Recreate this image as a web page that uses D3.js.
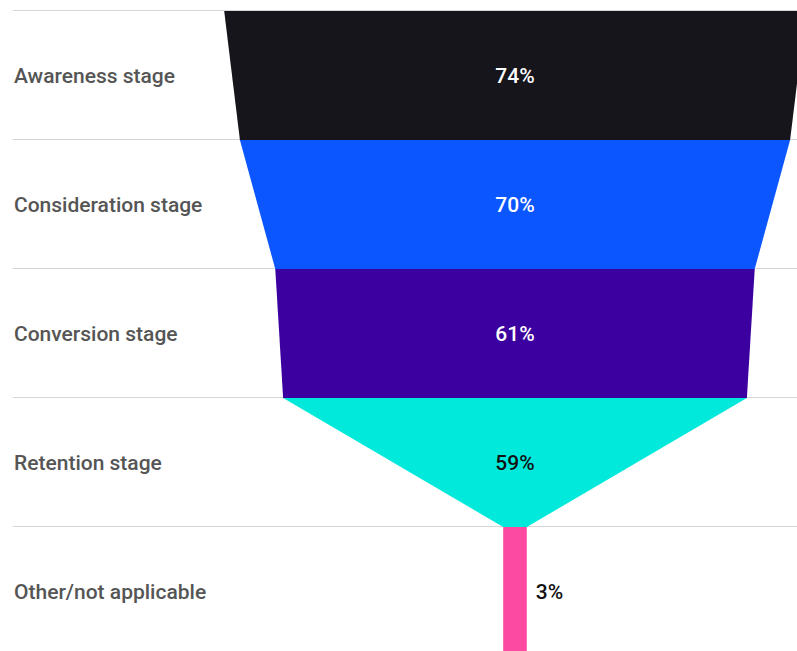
<!DOCTYPE html>
<html>
<head>
<meta charset="utf-8">
<script src="https://cdn.jsdelivr.net/npm/d3@7"></script>
<style>
  html, body { margin: 0; padding: 0; background: #fff; }
  svg { display: block; }
</style>
</head>
<body>
<svg id="chart" width="797" height="651"></svg>
<script>
// Funnel stages, top to bottom
const stages = ["Awareness stage", "Consideration stage", "Conversion stage", "Retention stage", "Other/not applicable"];
const shares = [74, 70, 61, 59, 3];
const fills = ["#15151b", "#0b56ff", "#3d00a0", "#00e9da", "#fb4aa0"];
const valueInk = ["#ffffff", "#ffffff", "#ffffff", "#111111", "#111111"];

const W = 797, H = 651;
const svg = d3.select("#chart");

const rowTop = 10.5, rowH = 129;
const y = d3.scaleBand().domain(stages).range([rowTop, rowTop + rowH * stages.length]).paddingInner(0).paddingOuter(0);
// width of a funnel slice as a function of its share
const w = d3.scaleLinear().domain([0, 100]).range([0, 786]);
const cx = 515;

// row separators
svg.append("g").selectAll("line").data(stages).join("line")
  .attr("x1", 13).attr("x2", W)
  .attr("y1", d => y(d)).attr("y2", d => y(d))
  .attr("stroke", "#d6d6d6").attr("stroke-width", 1);

// each slice tapers from its own share to the next stage's share
const slices = stages.map((s, i) => {
  const top = shares[i];
  const bottom = i < shares.length - 1 ? shares[i + 1] : shares[i];
  return { s, i, top, bottom };
});

svg.append("g").selectAll("path").data(slices).join("path")
  .attr("fill", d => fills[d.i])
  .attr("d", d => {
    const y0 = y(d.s) + 0.5, y1 = y(d.s) + y.bandwidth() + 0.5;
    const t = w(d.top) / 2, b = w(d.bottom) / 2;
    return `M${cx - t},${y0}L${cx + t},${y0}L${cx + b},${y1}L${cx - b},${y1}Z`;
  });

// stage names
svg.append("g").selectAll("text").data(stages).join("text")
  .attr("x", 14)
  .attr("y", d => y(d) + y.bandwidth() / 2 + 1)
  .attr("dy", "0.35em")
  .attr("fill", "#555555")
  .attr("font-family", "Roboto, sans-serif")
  .attr("font-weight", 500)
  .attr("font-size", 21)
  .text(d => d);

// share labels: centred inside wide slices, beside the narrow bar
const wide = d => w(d.top) > 60;
svg.append("g").selectAll("text").data(slices).join("text")
  .attr("x", d => wide(d) ? cx : cx + w(d.top) / 2 + 9)
  .attr("text-anchor", d => wide(d) ? "middle" : "start")
  .attr("y", d => y(d.s) + y.bandwidth() / 2 + 1)
  .attr("dy", "0.35em")
  .attr("fill", d => valueInk[d.i])
  .attr("font-family", "Roboto, sans-serif")
  .attr("font-weight", 500)
  .attr("font-size", 21)
  .text(d => d.top + "%");
</script>
</body>
</html>
